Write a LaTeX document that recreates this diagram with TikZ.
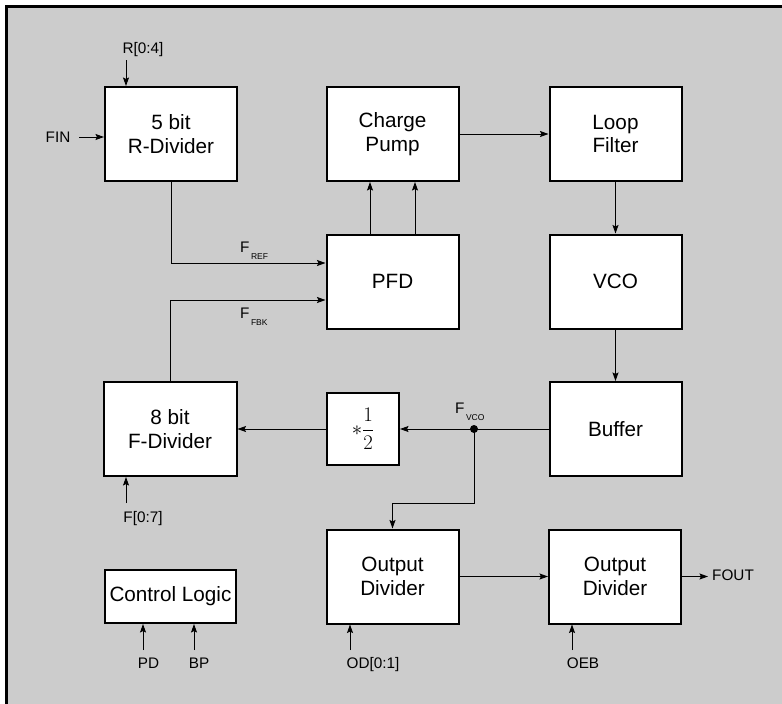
\documentclass[tikz,border=0pt]{standalone}
\usepackage{fontspec}
\setmainfont{Liberation Sans}
\usetikzlibrary{arrows.meta}
\definecolor{panelgray}{RGB}{204,204,204}
\newcommand{\sigf}[1]{F\kern1.5pt\raisebox{-7pt}{\fontsize{8.5}{9}\selectfont #1}}
\tikzset{
  blk/.style={draw, line width=2pt, fill=white, minimum width=132pt,
    minimum height=94pt, align=center, inner sep=0pt,
    font=\fontsize{20.7}{23.5}\selectfont},
  lab/.style={anchor=base, inner sep=0pt, font=\fontsize{15.3}{17}\selectfont},
  sig/.style={->, line width=0.9pt},
  >={Stealth[length=8.5pt,width=6pt,inset=1.5pt]}
}
\begin{document}
\begin{tikzpicture}[x=1pt,y=-1pt]
\useasboundingbox (0,0) rectangle (782,704);
\clip (0,0) rectangle (782,704);
% panel
\fill[white] (0,0) rectangle (782,704);
\draw[line width=3pt, fill=panelgray] (6.5,6.5) rectangle (800,720);
% blocks
\node[blk] (rdiv) at (171,134) {5 bit\\R-Divider};
\node[blk] (cp) at (392.5,134) {Charge\\Pump};
\node[blk] (lf) at (615.5,134) {Loop\\Filter};
\node[blk] (pfd) at (392.5,281.5) {PFD};
\node[blk] (vco) at (615.5,281.5) {VCO};
\node[blk] (buf) at (615.5,429) {Buffer};
\node[blk, minimum width=133pt] (fdiv) at (170,429) {8 bit\\F-Divider};
\node[blk, minimum width=72pt, minimum height=72pt,
  font=\fontsize{21}{23}\selectfont] (half) at (363,429) {$\displaystyle *\frac{1}{2}$};
\node[blk] (od1) at (392.5,576.5) {Output\\Divider};
\node[blk] (od2) at (615,576.5) {Output\\Divider};
\node[blk, minimum width=131pt, minimum height=53pt] (ctl) at (170.5,596.5) {Control Logic};
% pin labels
\node[lab] (rlab) at (143,53) {R[0:4]};
\node[lab] (fin) at (58,142) {FIN};
\node[lab] (flab) at (143,522) {F[0:7]};
\node[lab] (pd) at (148.5,668) {PD};
\node[lab] (bp) at (199,668) {BP};
\node[lab] (od) at (373,668) {OD[0:1]};
\node[lab] (oeb) at (583,668) {OEB};
\node[lab, anchor=base west] (fout) at (712,580) {FOUT};
\node[lab, anchor=base west] (fref) at (240,252) {\sigf{REF}};
\node[lab, anchor=base west] (ffbk) at (240,318) {\sigf{FBK}};
\node[lab, anchor=base west] (fvcol) at (455,413) {\sigf{VCO}};
% pin arrow tails
\coordinate (rin) at (126,60);
\coordinate (fin0) at (79,137);
\coordinate (fpin) at (126,503);
\coordinate (pdin) at (143,650);
\coordinate (bpin) at (194,650);
\coordinate (odin) at (350,650);
\coordinate (oebin) at (572,650);
\coordinate (fvco) at (474,429);
\coordinate (bend) at (474,503);
% loop
\draw[sig] (rdiv.south) |- ([yshift=18.5pt]pfd.west);
\draw[sig] (fdiv.north) |- ([yshift=-18.5pt]pfd.west);
\draw[sig] ([xshift=-22.5pt]pfd.north) -- ([xshift=-22.5pt]cp.south);
\draw[sig] ([xshift=22.5pt]pfd.north) -- ([xshift=22.5pt]cp.south);
\draw[sig] (cp.east) -- (lf.west);
\draw[sig] (lf.south) -- (vco.north);
\draw[sig] (vco.south) -- (buf.north);
\draw[sig] (buf.west) -- (half.east);
\draw[sig] (half.west) -- (fdiv.east);
\fill (fvco) circle (4pt);
\draw[sig] (fvco) -- (bend) -| (od1.north);
\draw[sig] (od1.east) -- (od2.west);
\draw[sig] (od2.east) -- ([xshift=-4pt]fout.west|-od2.east);
% pins
\draw[sig] (fin0) -- (fin0-|rdiv.west);
\draw[sig] (rin) -- (rin|-rdiv.north);
\draw[sig] (fpin) -- (fpin|-fdiv.south);
\draw[sig] (pdin) -- (pdin|-ctl.south);
\draw[sig] (bpin) -- (bpin|-ctl.south);
\draw[sig] (odin) -- (odin|-od1.south);
\draw[sig] (oebin) -- (oebin|-od2.south);
\end{tikzpicture}
\end{document}
